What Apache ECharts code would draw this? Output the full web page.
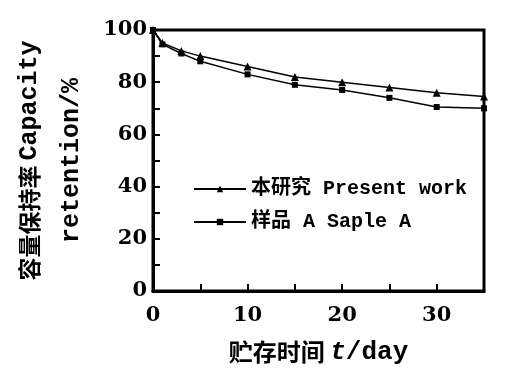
<!DOCTYPE html>
<html>
<head>
<meta charset="utf-8">
<script src="https://cdn.jsdelivr.net/npm/echarts@6/dist/echarts.min.js"></script>
<style>
  html, body { margin: 0; padding: 0; background: #fff; }
  #chart { width: 512px; height: 378px; }
</style>
</head>
<body>
<div id="chart"></div>
<script>
// storage time (day)
const days = [0, 1, 3, 5, 10, 15, 20, 25, 30, 35]
// capacity retention (%)
const presentWork = [100, 95, 92, 90, 86, 82, 80, 78, 76, 74.5]
const sampleA = [100, 94.5, 91, 88, 83, 79, 77, 74, 70.5, 70]
const seriesNames = ['本研究 Present work', '样品 A Saple A']

const chart = echarts.init(document.getElementById('chart'))

const tickFont = {
  color: '#000',
  fontFamily: 'DejaVu Serif, Liberation Serif, serif',
  fontWeight: 'bold',
  fontSize: 21
}
const monoFont = 'Liberation Mono, Noto Sans CJK SC, monospace'

const option = {
  animation: false,
  grid: {
    left: 153,
    right: 28,
    top: 30,
    bottom: 87,
    show: true,
    borderColor: '#000',
    borderWidth: 3
  },
  legend: {
    orient: 'vertical',
    left: 188,
    top: 174,
    itemWidth: 52,
    itemHeight: 8,
    itemGap: 13,
    data: seriesNames,
    textStyle: {
      color: '#000',
      fontFamily: monoFont,
      fontWeight: 'bold',
      fontSize: 20
    }
  },
  xAxis: {
    type: 'value',
    min: 0,
    max: 35,
    interval: 5,
    name: '{a|贮存时间 }{b|t}{c|/day}',
    nameLocation: 'middle',
    nameGap: 48,
    nameTextStyle: {
      rich: {
        a: { fontFamily: 'Noto Sans CJK SC', fontWeight: 'bold', fontSize: 24, color: '#000' },
        b: { fontFamily: 'Liberation Mono', fontStyle: 'italic', fontWeight: 'bold', fontSize: 26, color: '#000' },
        c: { fontFamily: 'Liberation Mono', fontWeight: 'bold', fontSize: 26, color: '#000' }
      }
    },
    axisLine: { lineStyle: { color: '#000', width: 3 } },
    axisTick: { inside: true, length: 7, lineStyle: { color: '#000', width: 2 } },
    axisLabel: Object.assign({}, tickFont, {
      margin: 14,
      formatter: v => (v % 10 === 0 ? String(v) : '')
    }),
    splitLine: { show: false }
  },
  yAxis: {
    type: 'value',
    min: 0,
    max: 100,
    interval: 20,
    name: '{z|容量保持率 }{m|Capacity}\n{m|retention/%}',
    nameLocation: 'middle',
    nameRotate: 90,
    nameGap: 52,
    nameTextStyle: {
      lineHeight: 42,
      rich: {
        z: { fontFamily: 'Noto Sans CJK SC', fontWeight: 'bold', fontSize: 23, color: '#000', lineHeight: 42 },
        m: { fontFamily: monoFont, fontWeight: 'bold', fontSize: 25, color: '#000', lineHeight: 42 }
      }
    },
    axisLine: { lineStyle: { color: '#000', width: 3 } },
    axisTick: { inside: true, length: 7, lineStyle: { color: '#000', width: 2 } },
    minorTick: { show: true, splitNumber: 2, length: 7, lineStyle: { color: '#000', width: 2 } },
    axisLabel: Object.assign({}, tickFont, { margin: 6 }),
    splitLine: { show: false }
  },
  series: [
    {
      name: seriesNames[0],
      type: 'line',
      symbol: 'triangle',
      symbolSize: 8,
      itemStyle: { color: '#000' },
      lineStyle: { color: '#000', width: 1.5 },
      data: days.map((d, i) => [d, presentWork[i]])
    },
    {
      name: seriesNames[1],
      type: 'line',
      symbol: 'rect',
      symbolSize: 6,
      itemStyle: { color: '#000' },
      lineStyle: { color: '#000', width: 1.5 },
      data: days.map((d, i) => [d, sampleA[i]])
    }
  ]
}

chart.setOption(option)
</script>
</body>
</html>
